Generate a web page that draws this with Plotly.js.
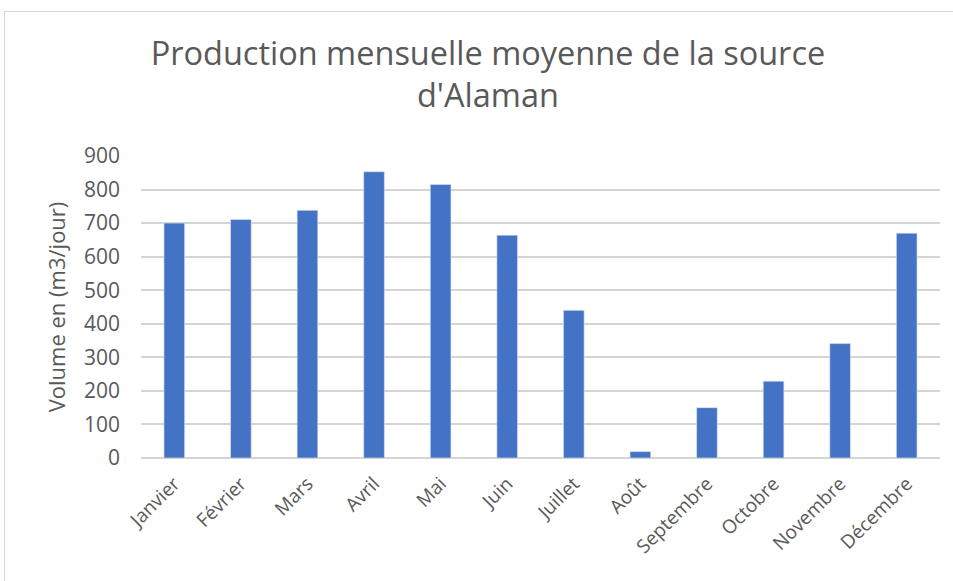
<!DOCTYPE html>
<html>
<head>
<meta charset="utf-8">
<script src="https://cdn.plot.ly/plotly-3.0.1.min.js"></script>
<style>
  html, body { margin: 0; padding: 0; background: #ffffff; }
  #frame { position: absolute; left: 4px; top: 11px; width: 960px; height: 600px; border: 1px solid #d9d9d9; box-sizing: border-box; }
  #chart { position: absolute; left: 0; top: 0; width: 953px; height: 581px; }
</style>
</head>
<body>
<div id="frame"></div>
<div id="chart"></div>
<script>
const months = ["Janvier", "Février", "Mars", "Avril", "Mai", "Juin", "Juillet", "Août", "Septembre", "Octobre", "Novembre", "Décembre"];
const volumes = [700, 711, 738, 853, 815, 664, 440, 19, 150, 229, 341, 670];
const yTicks = [0, 100, 200, 300, 400, 500, 600, 700, 800, 900];

const fontFamily = "'Open Sans', 'Noto Sans', sans-serif";
const textColor = "#595959";

const data = [{
  type: "bar",
  x: months,
  y: volumes,
  marker: { color: "#4472C4", line: { color: "#dbe4f5", width: 0.6 } },
  hoverinfo: "x+y"
}];

const layout = {
  width: 953,
  height: 581,
  paper_bgcolor: "rgba(0,0,0,0)",
  plot_bgcolor: "rgba(0,0,0,0)",
  margin: { l: 141, r: 13, t: 156, b: 123 },
  bargap: 0.69,
  showlegend: false,
  title: {
    text: "Production mensuelle moyenne de la source<br>d'Alaman",
    font: { family: fontFamily, size: 32.5, color: textColor },
    x: 0.512,
    xanchor: "center",
    xref: "container",
    y: 0.888,
    yanchor: "top",
    yref: "container"
  },
  xaxis: {
    tickangle: -45,
    tickfont: { family: fontFamily, size: 19, color: textColor },
    showgrid: false,
    showline: false,
    ticks: "",
    ticklabelstandoff: 10
  },
  yaxis: {
    range: [0, 900],
    tickvals: yTicks,
    ticktext: yTicks.map(String),
    tickfont: { family: fontFamily, size: 21, color: textColor },
    showgrid: true,
    gridcolor: "#d4d4d4",
    gridwidth: 1.6,
    zeroline: true,
    zerolinecolor: "#d4d4d4",
    zerolinewidth: 1.6,
    showline: false,
    ticks: "",
    ticklabelstandoff: 20,
    title: {
      text: "Volume en (m3/jour)",
      font: { family: fontFamily, size: 22, color: textColor },
      standoff: 12
    }
  }
};

Plotly.newPlot("chart", data, layout, { displayModeBar: false, staticPlot: false });
</script>
</body>
</html>
